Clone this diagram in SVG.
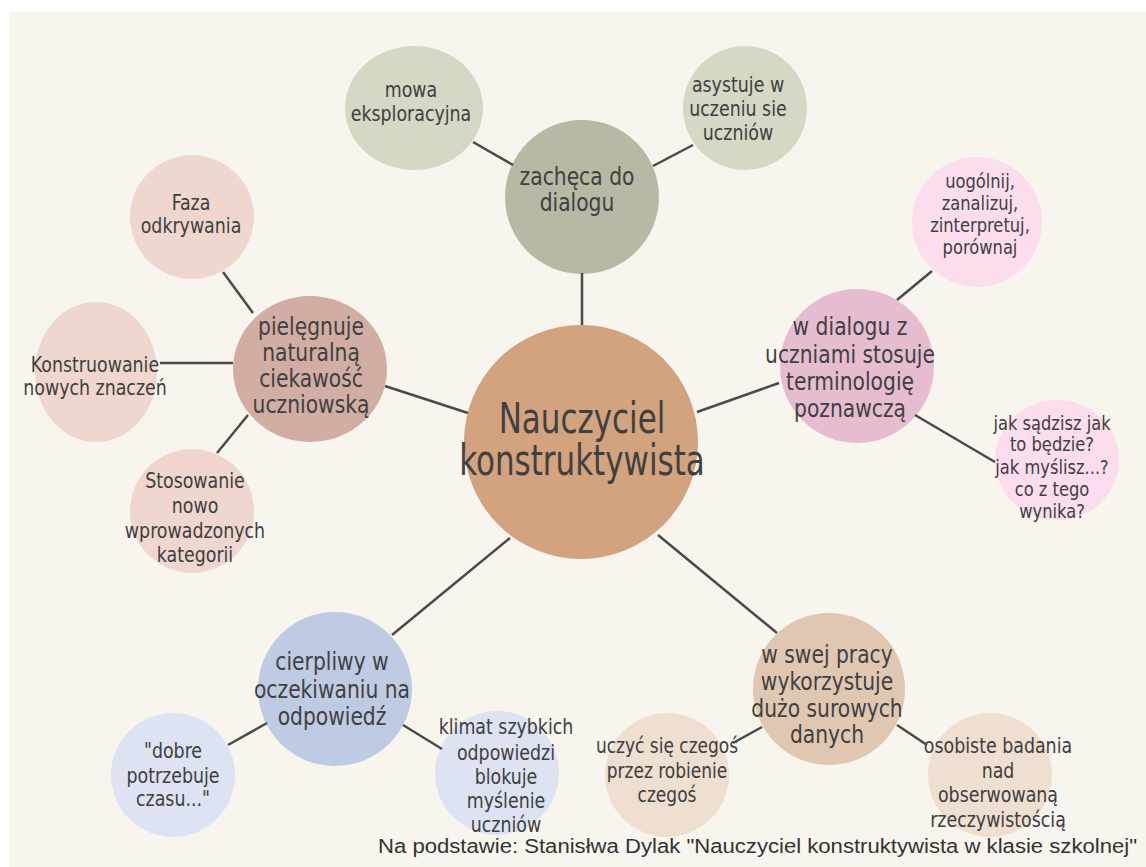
<svg xmlns="http://www.w3.org/2000/svg" width="1146" height="867" viewBox="0 0 1146 867">
<style>
text{font-family:"DejaVu Sans Condensed","DejaVu Sans",sans-serif;fill:#404040;text-anchor:middle}
.c{font-size:42px}
.m{font-size:24.5px}
.s{font-size:21.5px}
.p{font-size:19.5px}
.foot{font-family:"Liberation Sans",Arial,sans-serif;font-size:20px;fill:#333;text-anchor:start}
#connectors line{stroke:#4a4a4a;stroke-width:2.5}
</style>
<rect x="0" y="0" width="1146" height="867" fill="#ffffff"/>
<rect x="9" y="12" width="1137" height="855" fill="#f8f4ee"/>

<g id="n-center"><circle cx="581" cy="442" r="117" fill="#d3a27e"/>
<text class="c" transform="translate(582 0) scale(0.82 1)"><tspan x="0" y="433">Nauczyciel</tspan><tspan x="0" y="475">konstruktywista</tspan></text></g>

<g id="n-zacheca"><circle cx="582" cy="197" r="77" fill="#b8b8a4"/>
<text class="m" transform="translate(577 0) scale(0.92 1)"><tspan x="0" y="185">zachęca do</tspan><tspan x="0" y="211">dialogu</tspan></text></g>
<g id="n-mowa"><ellipse cx="414" cy="108" rx="69" ry="62" fill="#d6d7c5"/>
<text class="s" transform="translate(411 0) scale(0.9 1)"><tspan x="0" y="97">mowa</tspan><tspan x="0" y="121">eksploracyjna</tspan></text></g>
<g id="n-asystuje"><circle cx="745" cy="108" r="62" fill="#d6d7c5"/>
<text class="s" transform="translate(738 0) scale(0.9 1)"><tspan x="0" y="92">asystuje w</tspan><tspan x="0" y="116">uczeniu sie</tspan><tspan x="0" y="140">uczniów</tspan></text></g>

<g id="n-pielegnuje"><ellipse cx="310" cy="369" rx="77" ry="73" fill="#d1ada4"/>
<text class="m" transform="translate(311 0) scale(0.92 1)"><tspan x="0" y="335">pielęgnuje</tspan><tspan x="0" y="361">naturalną</tspan><tspan x="0" y="387">ciekawość</tspan><tspan x="0" y="413">uczniowską</tspan></text></g>
<g id="n-faza"><circle cx="192" cy="217" r="62" fill="#efd7cf"/>
<text class="s" transform="translate(191 0) scale(0.9 1)"><tspan x="0" y="210">Faza</tspan><tspan x="0" y="233">odkrywania</tspan></text></g>
<g id="n-konstruowanie"><ellipse cx="96" cy="372" rx="61" ry="70" fill="#efd7cf"/>
<text class="s" transform="translate(95 0) scale(0.9 1)"><tspan x="0" y="372">Konstruowanie</tspan><tspan x="0" y="395">nowych znaczeń</tspan></text></g>
<g id="n-stosowanie"><circle cx="192" cy="511" r="62" fill="#efd7cf"/>
<text class="s" transform="translate(195 0) scale(0.9 1)"><tspan x="0" y="488">Stosowanie</tspan><tspan x="0" y="513">nowo</tspan><tspan x="0" y="538">wprowadzonych</tspan><tspan x="0" y="562">kategorii</tspan></text></g>

<g id="n-wdialogu"><circle cx="857" cy="366" r="77" fill="#e6bdd0"/>
<text class="m" transform="translate(850 0) scale(0.92 1)"><tspan x="0" y="335">w dialogu z</tspan><tspan x="0" y="363">uczniami stosuje</tspan><tspan x="0" y="390">terminologię</tspan><tspan x="0" y="417">poznawczą</tspan></text></g>
<g id="n-uogolnij"><circle cx="977" cy="222" r="65" fill="#fcdded"/>
<text class="p" transform="translate(980 0) scale(0.93 1)"><tspan x="0" y="188">uogólnij,</tspan><tspan x="0" y="210">zanalizuj,</tspan><tspan x="0" y="232">zinterpretuj,</tspan><tspan x="0" y="254">porównaj</tspan></text></g>
<g id="n-jak"><ellipse cx="1057" cy="460" rx="62" ry="60" fill="#fcdded"/>
<text class="p" transform="translate(1052 0) scale(0.93 1)"><tspan x="0" y="430">jak sądzisz jak</tspan><tspan x="0" y="451">to będzie?</tspan><tspan x="0" y="474">jak myślisz...?</tspan><tspan x="0" y="496">co z tego</tspan><tspan x="0" y="518">wynika?</tspan></text></g>

<g id="n-cierpliwy"><circle cx="335" cy="689" r="77" fill="#bfcae3"/>
<text class="m" transform="translate(332 0) scale(0.92 1)"><tspan x="0" y="670">cierpliwy w</tspan><tspan x="0" y="698">oczekiwaniu na</tspan><tspan x="0" y="725">odpowiedź</tspan></text></g>
<g id="n-dobre"><circle cx="173" cy="775" r="62" fill="#dde3f3"/>
<text class="s" transform="translate(173 0) scale(0.9 1)"><tspan x="0" y="758">"dobre</tspan><tspan x="0" y="783">potrzebuje</tspan><tspan x="0" y="806">czasu..."</tspan></text></g>
<g id="n-klimat"><circle cx="497" cy="773" r="62" fill="#dde3f3"/>
<text class="s" transform="translate(506 0) scale(0.9 1)"><tspan x="0" y="734">klimat szybkich</tspan><tspan x="0" y="760">odpowiedzi</tspan><tspan x="0" y="784">blokuje</tspan><tspan x="0" y="808">myślenie</tspan><tspan x="0" y="832">uczniów</tspan></text></g>

<g id="n-wswej"><circle cx="829" cy="689" r="76" fill="#dfc7b2"/>
<text class="m" transform="translate(827 0) scale(0.92 1)"><tspan x="0" y="663">w swej pracy</tspan><tspan x="0" y="690">wykorzystuje</tspan><tspan x="0" y="717">dużo surowych</tspan><tspan x="0" y="743">danych</tspan></text></g>
<g id="n-uczyc"><circle cx="667" cy="775" r="62" fill="#efdfd0"/>
<text class="s" transform="translate(667 0) scale(0.88 1)"><tspan x="0" y="753">uczyć się czegoś</tspan><tspan x="0" y="778">przez robienie</tspan><tspan x="0" y="802">czegoś</tspan></text></g>
<g id="n-osobiste"><circle cx="990" cy="775" r="62" fill="#efdfd0"/>
<text class="s" transform="translate(998 0) scale(0.9 1)"><tspan x="0" y="753">osobiste badania</tspan><tspan x="0" y="778">nad</tspan><tspan x="0" y="802">obserwowaną</tspan><tspan x="0" y="827">rzeczywistością</tspan></text></g>

<g id="connectors">
<line x1="582" y1="273" x2="582" y2="325"/>
<line x1="385" y1="386" x2="468" y2="413"/>
<line x1="697" y1="412" x2="779" y2="383"/>
<line x1="392" y1="635" x2="510" y2="538"/>
<line x1="658" y1="535" x2="777" y2="633"/>
<line x1="473" y1="142" x2="513" y2="165"/>
<line x1="653" y1="166" x2="693" y2="145"/>
<line x1="223" y1="272" x2="253" y2="313"/>
<line x1="160" y1="363" x2="233" y2="363"/>
<line x1="217" y1="453" x2="248" y2="415"/>
<line x1="897" y1="300" x2="932" y2="271"/>
<line x1="915" y1="415" x2="995" y2="462"/>
<line x1="228" y1="745" x2="267" y2="723"/>
<line x1="403" y1="725" x2="442" y2="749"/>
<line x1="733" y1="743" x2="762" y2="727"/>
<line x1="897" y1="725" x2="927" y2="745"/>
</g>

<text class="foot" x="378" y="853" textLength="759" lengthAdjust="spacingAndGlyphs">Na podstawie: Stanisłwa Dylak "Nauczyciel konstruktywista w klasie szkolnej"</text>
</svg>
